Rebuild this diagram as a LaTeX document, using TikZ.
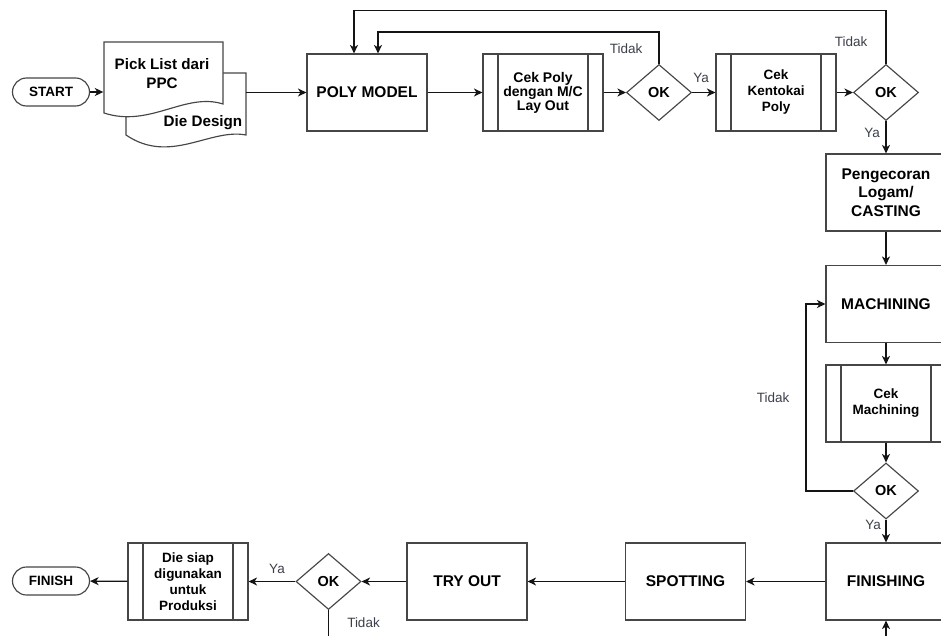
\documentclass[tikz,border=0pt]{standalone}
\usepackage{fontspec}
\setmainfont{Liberation Sans}
\usetikzlibrary{shapes.geometric,arrows.meta}
\definecolor{edgecol}{RGB}{20,20,20}
\definecolor{bordercol}{RGB}{70,70,70}
\definecolor{lblcol}{RGB}{60,64,74}
\begin{document}
\begin{tikzpicture}[x=1pt,y=-1pt,
  base/.style={draw=bordercol, line width=1.15pt, fill=white, align=center, inner sep=0pt,
    font=\bfseries\fontsize{15.5}{18.5}\selectfont},
  proc/.style={base, rectangle, minimum width=120pt, minimum height=77pt},
  sub/.style={proc, font=\bfseries\fontsize{13.5}{16}\selectfont,
    path picture={\draw[bordercol, line width=1.15pt]
      ([xshift=15pt]path picture bounding box.north west) -- ([xshift=15pt]path picture bounding box.south west)
      ([xshift=-15pt]path picture bounding box.north east) -- ([xshift=-15pt]path picture bounding box.south east);}},
  term/.style={base, rectangle, rounded corners=14pt, minimum width=77pt, minimum height=28pt,
    font=\bfseries\fontsize{13.5}{16}\selectfont},
  dec/.style={base, diamond, minimum width=65pt, minimum height=56pt,
    font=\bfseries\fontsize{14.5}{17}\selectfont},
  docframe/.style={rectangle, inner sep=0pt, minimum width=120pt},
  doctext/.style={align=center, inner sep=0pt, font=\bfseries\fontsize{15.2}{19}\selectfont},
  arr/.style={draw=edgecol, line width=1.3pt, -{Stealth[length=8.5pt,width=8pt,inset=2.5pt]}},
  ln/.style={draw=edgecol, line width=1.3pt},
  lab/.style={text=lblcol, inner sep=0pt, font=\fontsize{13.5}{16}\selectfont},
]
\useasboundingbox (0,0) rectangle (941,636);
\fill[white] (0,0) rectangle (941,636);
\clip (0,0) rectangle (941,636);

% document shapes
\node[docframe, minimum height=75pt] (die) at (186,110.5) {};
\draw[bordercol, line width=1.15pt, fill=white] (126,73) -- (246,73) -- (246,135)
  .. controls (210,128) and (170,165) .. (126,135) -- cycle;
\node[docframe, minimum height=75pt] (pick) at (163.5,79.5) {};
\draw[bordercol, line width=1.15pt, fill=white] (104,42) -- (223,42) -- (223,104)
  .. controls (185,92) and (150,128) .. (104,113) -- cycle;
\node[doctext] (picktext) at (162,73.5) {Pick List dari\\PPC};
\node[doctext] (dietext) at (203,123) {Die Design};

% nodes
\node[term] (start) at (51,92) {START};
\node[proc] (poly) at (367,92.5) {POLY MODEL};
\node[sub, font=\bfseries\fontsize{14}{12.5}\selectfont] (cekpoly) at (543,92.5) {Cek Poly\\dengan M/C\\Lay Out};
\node[dec] (ok1) at (659,92.5) {OK};
\node[sub] (kento) at (776,92.5) {Cek\\Kentokai\\Poly};
\node[dec] (ok2) at (886,92.5) {OK};
\node[proc] (cast) at (886,192.5) {Pengecoran\\Logam/\\CASTING};
\node[proc] (mach) at (886,304) {MACHINING};
\node[sub] (cekm) at (886,403.5) {Cek\\Machining};
\node[dec] (ok3) at (886,491) {OK};
\node[proc] (fin) at (886,581.5) {FINISHING};
\node[proc] (spot) at (685.5,581.5) {SPOTTING};
\node[proc] (try) at (467,581.5) {TRY OUT};
\node[dec] (ok4) at (328.5,581.5) {OK};
\node[sub] (siap) at (188,581.5) {Die siap\\digunakan\\untuk\\Produksi};
\node[term] (finish) at (51,581) {FINISH};

\coordinate (loopA) at (659,32);
\coordinate (loopB) at (886,10.5);
\coordinate (loopC) at (806,491);
\coordinate (below4) at (328.5,640);
\coordinate (belowF) at (886,640);

% connectors
\draw[arr] (start) -- (start -| pick.west);
\draw[arr] (die.east |- poly) -- (poly);
\draw[arr] (poly) -- (cekpoly);
\draw[arr] (cekpoly) -- (ok1);
\draw[arr] (ok1) -- (kento);
\draw[arr] (kento) -- (ok2);
\draw[arr] (ok1.north) -- (loopA) -| ([xshift=11pt]poly.north);
\draw[arr] (ok2.north) -- (loopB) -| ([xshift=-13pt]poly.north);
\draw[arr] (ok2) -- (cast);
\draw[arr] (cast) -- (mach);
\draw[arr] (mach) -- (cekm);
\draw[arr] (cekm) -- (ok3);
\draw[arr] (ok3) -- (fin);
\draw[arr] (ok3.west) -- (loopC) |- (mach.west);
\draw[arr] (belowF) -- (fin);
\draw[arr] (fin) -- (spot);
\draw[arr] (spot) -- (try);
\draw[arr] (try) -- (ok4);
\draw[arr] (ok4) -- (siap);
\draw[arr] (siap) -- (finish);
\draw[ln] (ok4.south) -- (below4);

% labels
\node[lab] (t1) at (626,49) {Tidak};
\node[lab] (t2) at (851,42) {Tidak};
\node[lab] (t3) at (773,397.5) {Tidak};
\node[lab] (t4) at (363.5,623) {Tidak};
\node[lab] (y1) at (701,78) {Ya};
\node[lab] (y2) at (872,133) {Ya};
\node[lab] (y3) at (873,525) {Ya};
\node[lab] (y4) at (277,569) {Ya};
\end{tikzpicture}
\end{document}
